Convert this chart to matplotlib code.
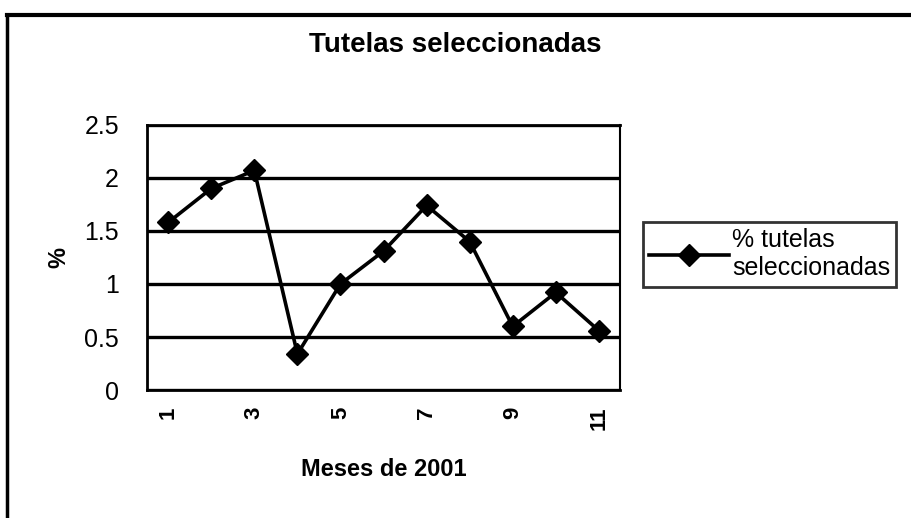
import matplotlib

matplotlib.use("Agg")
import matplotlib.pyplot as plt  # noqa: E402
from matplotlib.lines import Line2D  # noqa: E402

plt.rcParams["font.family"] = ["Liberation Sans", "DejaVu Sans"]

# data
months = list(range(1, 12))
pct_selected = [1.58, 1.90, 2.07, 0.34, 1.00, 1.31, 1.74, 1.40, 0.60, 0.92, 0.56]
yticks = [0, 0.5, 1, 1.5, 2, 2.5]
ytick_labels = ["0", "0.5", "1", "1.5", "2", "2.5"]
xtick_months = [1, 3, 5, 7, 9, 11]

fig = plt.figure(figsize=(9.11, 5.18), dpi=100)
ax = fig.add_axes([0.161, 0.247, 0.52, 0.512])

ax.plot(months, pct_selected, color="black", lw=2.6, marker="D", ms=11,
        markerfacecolor="black", markeredgecolor="black")

ax.set_xlim(0.5, 11.5)
ax.set_ylim(0, 2.5)
ax.set_yticks(yticks)
ax.set_yticklabels(ytick_labels, fontsize=18)
ax.set_xticks(xtick_months)
ax.set_xticklabels([str(m) for m in xtick_months], rotation=90,
                   fontsize=16, fontweight="bold")
ax.tick_params(axis="y", length=0, pad=20)
ax.tick_params(axis="x", length=0, pad=12)
ax.grid(axis="y", color="black", lw=2.4)
for s in ax.spines.values():
    s.set_linewidth(2)
ax.spines["right"].set_linewidth(1.5)

ax.set_xlabel("Meses de 2001", fontsize=17, fontweight="bold", labelpad=20)
ax.set_ylabel("%", fontsize=17, fontweight="bold", labelpad=10)
fig.text(0.5, 0.913, "Tutelas seleccionadas", ha="center", va="center",
         fontsize=20, fontweight="bold")

handle = Line2D([], [], color="black", lw=2.6, marker="D", ms=11)
leg = fig.legend([handle], ["% tutelas\nseleccionadas"], loc="upper left",
                 bbox_to_anchor=(0.706, 0.571), fontsize=18, frameon=True,
                 fancybox=False, edgecolor="black", handlelength=3.2,
                 handletextpad=0.1, borderpad=0.25, borderaxespad=0)
leg.get_frame().set_linewidth(2)

# outer chart frame (only top and left visible in the scan)
fig.add_artist(Line2D([0.008, 1.0], [0.972, 0.972], color="black", lw=3))
fig.add_artist(Line2D([0.008, 0.008], [0.0, 0.972], color="black", lw=2.5))

fig.savefig("out.png", dpi=100)
